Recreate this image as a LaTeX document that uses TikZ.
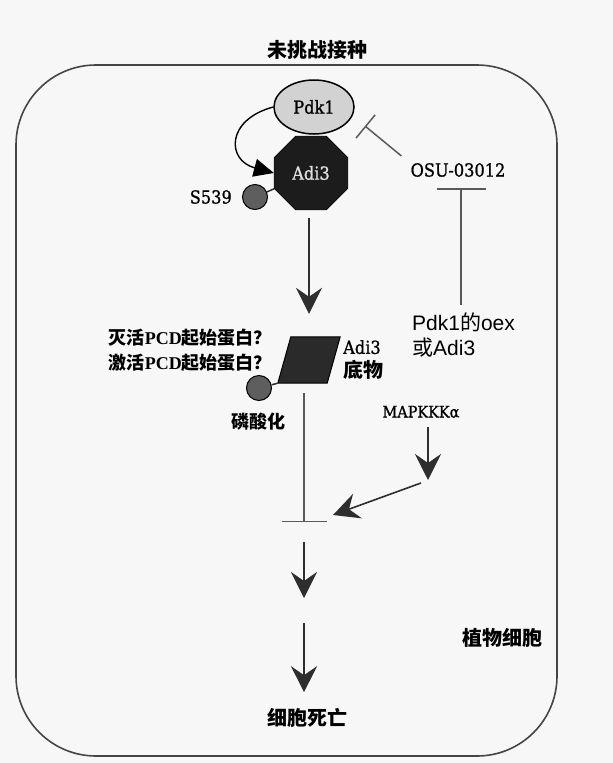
\documentclass[tikz,border=0pt]{standalone}
\usepackage{fontspec}
\setmainfont{Liberation Serif}
\newfontfamily\cjk{Noto Sans CJK SC}
\newfontfamily\lsans{Liberation Sans}
\newfontfamily\slab{DejaVu Serif}[FakeStretch=0.9, FakeBold=1]
\usepackage{tikz}
\usetikzlibrary{positioning}
\usetikzlibrary{calc}
\usetikzlibrary{arrows.meta}
\usetikzlibrary{shapes.geometric}

\definecolor{inkline}{HTML}{2E2E2E}
\definecolor{inhibgray}{HTML}{5A5A5A}
\definecolor{wallgray}{HTML}{454545}
\definecolor{pdkfill}{HTML}{D2D2D2}
\definecolor{adifill}{HTML}{1C1C1C}
\definecolor{subfill}{HTML}{2A2A2A}
\definecolor{dotfill}{HTML}{5E5E5E}
\definecolor{paper}{HTML}{F7F7F7}

\tikzset{
    act/.style={draw=inkline, line width=1.6pt, -{Stealth[length=26pt, width=26pt, inset=9pt]}},
    inhibit/.style={draw=inhibgray, line width=1.5pt, -{Bar[width=#1]}},
    inhibit/.default=30pt,
    link/.style={draw=inkline, line width=1.5pt},
    phos/.style={circle, draw=black, line width=1pt, fill=dotfill, minimum size=25pt},
    zhbig/.style={font=\cjk\bfseries\fontsize{20}{24}\selectfont},
    zhsmall/.style={font=\cjk\bfseries\fontsize{18}{25}\selectfont},
    slablabel/.style={font=\slab\fontsize{18}{24}\selectfont},
}

\begin{document}
\begin{tikzpicture}[x=1pt, y=-1pt, every node/.style={inner sep=0pt}]

    \fill[paper] (0,0) rectangle (613,763);
    \useasboundingbox (0,0) rectangle (613,763);

    \draw[draw=wallgray, line width=1.6pt, rounded corners=80pt] (16,65) rectangle (557,756);

    \node[zhbig] (title) at (317,50) {未挑战接种};
    \node[zhbig] (plant) at (502,638) {植物细胞};

    \node[ellipse, draw=black, line width=1.5pt, fill=pdkfill, minimum width=80pt, minimum height=54pt,
          slablabel] (pdk) at (314,107) {Pdk1};
    \node[regular polygon, regular polygon sides=8, minimum size=80pt, draw=black, fill=adifill,
          text=gray!25, slablabel] (adi) at (311,173) {Adi3};
    \node[phos] (sdot) at (255,197) {};
    \node[left=10pt of sdot, slablabel] (slab) {S539};

    \node[slablabel] (osu) at (458,170) {OSU-03012};
    \node[align=left, anchor=west, font=\lsans\fontsize{21}{25}\selectfont] (oex) at (412,334.5)
        {Pdk1{\cjk 的}oex\\{\cjk 或}Adi3};

    \node[minimum width=62pt, minimum height=46pt] (sub) at (309,360) {};
    \filldraw[fill=subfill, draw=black, line width=1pt]
        (sub.south west) -- ([xshift=-13pt]sub.south east) -- (sub.north east)
        -- ([xshift=13pt]sub.north west) -- cycle;
    \node[phos] (pdot) at (259,388) {};
    \node[zhsmall] (plab) at (258,422) {磷酸化};
    \node[align=left, anchor=west, zhbig] (sublab) at (343,360)
        {{\slab\mdseries\fontsize{18}{20}\selectfont Adi3}\\底物};
    \node[align=right, anchor=east, zhsmall] (pcd) at (272,350)
        {灭活{\rmfamily PCD}起始蛋白？\\激活{\rmfamily PCD}起始蛋白？};

    \node[font=\slab\fontsize{16}{20}\selectfont] (mapk) at (421,412) {MAPKKKα};
    \node[zhbig] (death) at (307,718) {细胞死亡};

    \coordinate (osuhit) at (365,126);
    \coordinate (osubar) at (461,188);
    \coordinate (mjoin) at (428,480);
    \coordinate (blockhit) at (333,515);
    \coordinate (block) at (304,522);
    \coordinate (relay) at (304,610);

    \draw[link] (sdot) -- (adi);
    \draw[draw=black, line width=1.4pt, -{Triangle[length=20pt, width=18pt]}]
        (pdk.west) to[out=195, in=165, looseness=1.9] (adi.west);
    \draw[inhibit=30pt] ([xshift=-9pt, yshift=7pt]osu.north west) -- (osuhit);
    \draw[inhibit=49pt] ([yshift=7pt]oex.north -| osubar) -- (osubar);

    \draw[act, shorten <=8pt, shorten >=23pt] (adi.south -| sub) -- (sub.north);
    \draw[link] (pdot) -- (sub.south west);
    \draw[inhibit=45pt] ([yshift=-10pt]sub.south -| block) -- (block);

    \draw[act, shorten <=9pt] (mapk.south -| mjoin) -- (mjoin);
    \draw[act] ([xshift=-7pt, yshift=-3pt]mjoin) -- (blockhit);

    \draw[act] ([yshift=-20pt]block) -- ([yshift=12pt]relay);
    \draw[act, shorten >=16pt] ([yshift=-13pt]relay) -- (death.north -| relay);

\end{tikzpicture}
\end{document}
